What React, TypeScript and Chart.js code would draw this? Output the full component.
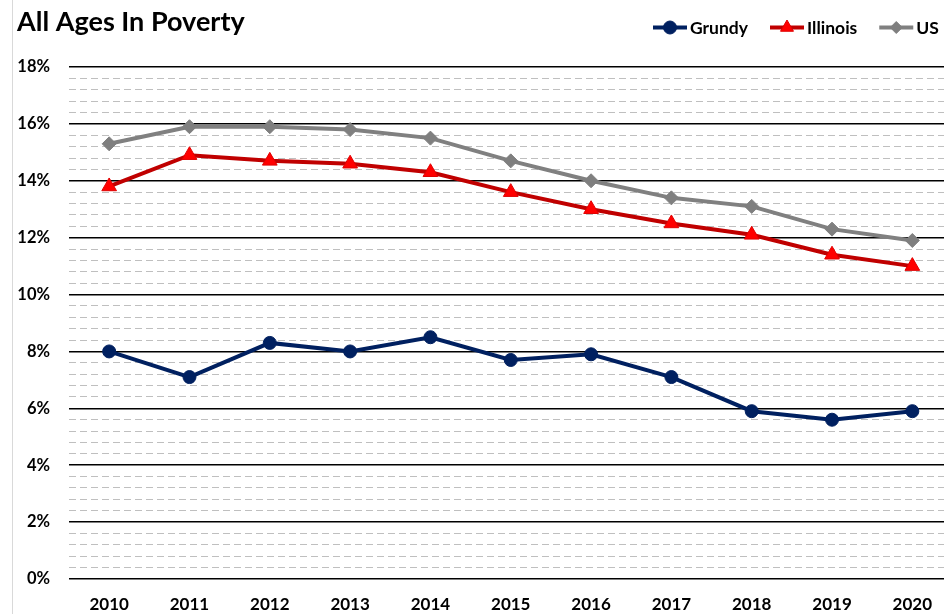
import React, { useEffect, useRef } from "react";
import { Chart, registerables } from "chart.js";

Chart.register(...registerables);

const TITLE = "All Ages In Poverty";
const years = ["2010", "2011", "2012", "2013", "2014", "2015", "2016", "2017", "2018", "2019", "2020"];
const grundy = [8.0, 7.1, 8.3, 8.0, 8.5, 7.7, 7.9, 7.1, 5.9, 5.6, 5.9];
const illinois = [13.8, 14.9, 14.7, 14.6, 14.3, 13.6, 13.0, 12.5, 12.1, 11.4, 11.0];
const us = [15.3, 15.9, 15.9, 15.8, 15.5, 14.7, 14.0, 13.4, 13.1, 12.3, 11.9];
const yMin = 0;
const yMax = 18;
const minorStep = 0.4;
const majorStep = 2;

const FONT = "Lato, 'Open Sans', sans-serif";
const CANVAS_W = 962;
const CANVAS_H = 614;

const isMajor = (v: number | undefined) =>
  v !== undefined && Math.abs(v / majorStep - Math.round(v / majorStep)) < 1e-6;

function drawMarker(ctx: CanvasRenderingContext2D, style: string, x: number, y: number, r: number, fill: string, stroke: string) {
  ctx.save();
  ctx.fillStyle = fill;
  ctx.strokeStyle = stroke;
  ctx.lineWidth = 1;
  ctx.beginPath();
  if (style === "circle") {
    ctx.arc(x, y, r, 0, Math.PI * 2);
  } else if (style === "triangle") {
    for (let k = 0; k < 3; k++) {
      const a = (k * 2 * Math.PI) / 3;
      const px = x + Math.sin(a) * r;
      const py = y - Math.cos(a) * r;
      if (k === 0) ctx.moveTo(px, py);
      else ctx.lineTo(px, py);
    }
    ctx.closePath();
  } else {
    ctx.moveTo(x, y - r);
    ctx.lineTo(x + r, y);
    ctx.lineTo(x, y + r);
    ctx.lineTo(x - r, y);
    ctx.closePath();
  }
  ctx.fill();
  ctx.stroke();
  ctx.restore();
}

const overlayPlugin = {
  id: "overlay",
  afterDraw(chart: any) {
    const ctx: CanvasRenderingContext2D = chart.ctx;
    ctx.save();
    // frame edge
    ctx.strokeStyle = "#d9d9d9";
    ctx.lineWidth = 1;
    ctx.beginPath();
    ctx.moveTo(12.5, 0);
    ctx.lineTo(12.5, CANVAS_H);
    ctx.stroke();
    // title
    ctx.fillStyle = "#000";
    ctx.font = `bold 27px ${FONT}`;
    ctx.textBaseline = "alphabetic";
    ctx.textAlign = "left";
    ctx.fillText(TITLE, 17, 30.5);
    // legend
    ctx.font = `bold 17.5px ${FONT}`;
    let x = 653;
    const y = 27.5;
    chart.data.datasets.forEach((ds: any) => {
      ctx.strokeStyle = ds.borderColor;
      ctx.lineWidth = 4;
      ctx.beginPath();
      ctx.moveTo(x, y);
      ctx.lineTo(x + 34, y);
      ctx.stroke();
      drawMarker(ctx, ds.pointStyle, x + 17, y, ds.legendRadius, ds.pointBackgroundColor, ds.pointBorderColor);
      ctx.fillStyle = "#000";
      ctx.textBaseline = "middle";
      ctx.fillText(ds.label, x + 37, y + 0.5);
      x = x + 37 + ctx.measureText(ds.label).width + 22;
    });
    ctx.restore();
  },
};

export default function App() {
  const ref = useRef<HTMLCanvasElement>(null);

  useEffect(() => {
    const canvas = ref.current!;
    const chart = new Chart(canvas, {
      type: "line",
      data: {
        labels: years,
        datasets: [
          {
            label: "Grundy",
            data: grundy,
            borderColor: "#002060",
            backgroundColor: "#002060",
            pointBackgroundColor: "#002060",
            pointBorderColor: "#002060",
            pointStyle: "circle",
            pointRadius: 6.5,
            pointBorderWidth: 1,
            borderWidth: 4,
            tension: 0,
            legendRadius: 6.5,
          } as any,
          {
            label: "Illinois",
            data: illinois,
            borderColor: "#C00000",
            backgroundColor: "#FF0000",
            pointBackgroundColor: "#FF0000",
            pointBorderColor: "#E00000",
            pointStyle: "triangle",
            pointRadius: 8.5,
            pointBorderWidth: 1,
            borderWidth: 4,
            tension: 0,
            legendRadius: 7.5,
          } as any,
          {
            label: "US",
            data: us,
            borderColor: "#808080",
            backgroundColor: "#7F7F7F",
            pointBackgroundColor: "#7F7F7F",
            pointBorderColor: "#7F7F7F",
            pointStyle: "rectRot",
            pointRadius: 7,
            pointBorderWidth: 1,
            borderWidth: 4,
            tension: 0,
            legendRadius: 6,
          } as any,
        ],
      },
      options: {
        responsive: false,
        animation: false,
        layout: { padding: { top: 67, left: 0, right: 0, bottom: 0 } },
        plugins: {
          legend: { display: false },
          title: { display: false },
          tooltip: { enabled: false },
        },
        scales: {
          x: {
            type: "category",
            offset: true,
            grid: { display: false, drawTicks: false },
            border: { display: false },
            ticks: {
              color: "#000",
              font: { family: FONT, size: 17, weight: "bold" },
              padding: 15,
              maxRotation: 0,
              autoSkip: false,
            },
            afterFit: (s: any) => {
              s.height = 35;
            },
          },
          y: {
            type: "linear",
            min: yMin,
            max: yMax,
            grid: {
              drawTicks: false,
              color: (c: any) => (isMajor(c.tick?.value) ? "#000000" : "#bfbfbf"),
              lineWidth: (c: any) => (isMajor(c.tick?.value) ? 1.5 : 1),
            },
            border: {
              display: false,
              dash: (c: any) => (c.tick === undefined || isMajor(c.tick.value) ? [] : [7, 4]),
            },
            ticks: {
              stepSize: minorStep,
              autoSkip: false,
              color: "#000",
              padding: 19,
              font: { family: FONT, size: 16.5, weight: "bold" },
              callback: (v: any) => (isMajor(Number(v)) ? `${Math.round(Number(v))}%` : ""),
            },
            afterFit: (s: any) => {
              s.width = 69;
            },
          },
        },
      },
      plugins: [overlayPlugin],
    });
    return () => chart.destroy();
  }, []);

  return (
    <div
      style={{
        position: "fixed",
        left: 0,
        top: 0,
        width: 944,
        height: 614,
        overflow: "hidden",
        background: "#fff",
      }}
    >
      <canvas ref={ref} width={CANVAS_W} height={CANVAS_H} style={{ display: "block" }} />
    </div>
  );
}
